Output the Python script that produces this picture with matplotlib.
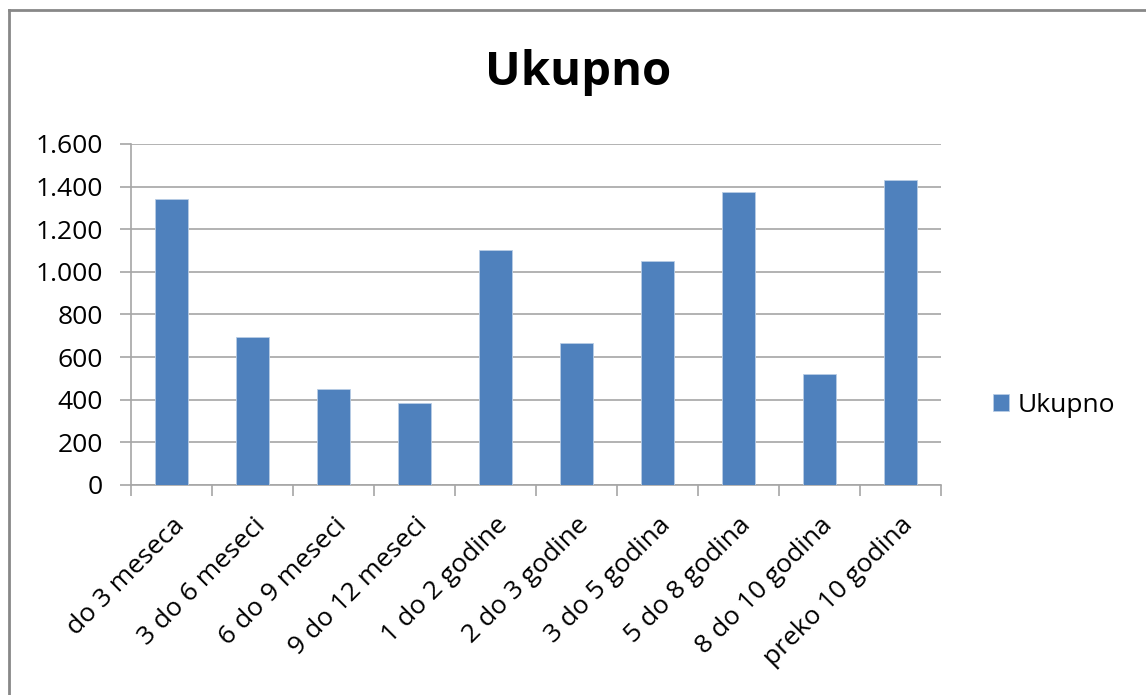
import matplotlib
matplotlib.use("Agg")
import matplotlib.pyplot as plt
from matplotlib.lines import Line2D
from matplotlib.ticker import FuncFormatter, FixedLocator, NullFormatter
import numpy as np

categories = ["do 3 meseca", "3 do 6 meseci", "6 do 9 meseci", "9 do 12 meseci",
              "1 do 2 godine", "2 do 3 godine", "3 do 5 godina", "5 do 8 godina",
              "8 do 10 godina", "preko 10 godina"]
values = [1343, 696, 451, 385, 1104, 667, 1051, 1373, 523, 1429]
series_name = "Ukupno"
yticks = [0, 200, 400, 600, 800, 1000, 1200, 1400, 1600]

plt.rcParams['font.family'] = ['Open Sans', 'DejaVu Sans']

fig = plt.figure(figsize=(11.46, 6.95), dpi=100)
ax = fig.add_axes([131/1146, 1 - 485/695, (941-131)/1146, (485-144)/695])

x = np.arange(len(categories))
bars = ax.bar(x, values, width=0.41, color="#4F81BD", edgecolor="#B9CDE5",
              linewidth=0.6, label=series_name, zorder=3)

ax.set_xlim(-0.5, len(categories) - 0.5)
ax.set_ylim(0, 1600)
ax.set_yticks(yticks)
ax.yaxis.set_major_formatter(FuncFormatter(lambda v, p: f"{int(v):,}".replace(",", ".")))
ax.grid(axis="y", color="#A6A6A6", linewidth=1.2, zorder=0)

ax.set_xticks(x)
ax.set_xticklabels(categories, rotation=45, ha="right", rotation_mode="anchor", fontsize=19)
ax.tick_params(axis="x", which="major", length=0, pad=20)
ax.xaxis.set_minor_locator(FixedLocator(np.arange(-0.5, len(categories), 1.0)))
ax.xaxis.set_minor_formatter(NullFormatter())
ax.tick_params(axis="x", which="minor", length=8, color="#A6A6A6", width=1.2)
ax.tick_params(axis="y", length=8, color="#A6A6A6", width=1.2, labelsize=19, pad=12)

for s in ["top", "right"]:
    ax.spines[s].set_visible(False)
for s in ["left", "bottom"]:
    ax.spines[s].set_color("#A6A6A6")
    ax.spines[s].set_linewidth(1.2)

fig.text(578/1146, 1 - 72/695, "Ukupno", ha="center", va="center",
         fontsize=34, fontweight="bold")

fig.legend(handles=[bars], labels=[series_name], loc="center left",
           bbox_to_anchor=(969/1146, 1 - 405/695), frameon=False, fontsize=19,
           handlelength=0.6, handleheight=0.6, handletextpad=0.35)

# chart frame (left and top edges visible)
fig.add_artist(Line2D([8.5/1146, 8.5/1146], [0, 1 - 9.5/695], transform=fig.transFigure,
                      color="#888888", linewidth=2))
fig.add_artist(Line2D([8.5/1146, 1], [1 - 9.5/695, 1 - 9.5/695], transform=fig.transFigure,
                      color="#888888", linewidth=2))

fig.savefig("out.png", dpi=100)
